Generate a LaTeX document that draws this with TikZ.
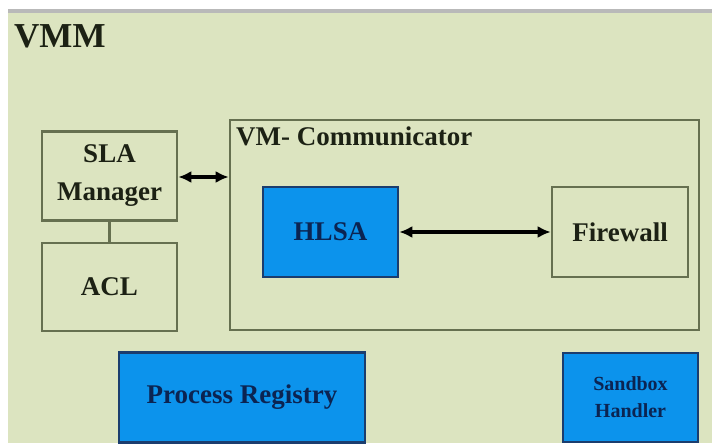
\documentclass[tikz,border=0pt]{standalone}
\usepackage{fontspec}
\setmainfont{Liberation Serif}
\usetikzlibrary{arrows.meta}
\definecolor{bggreen}{HTML}{DCE4C0}
\definecolor{olive}{HTML}{667050}
\definecolor{boxblue}{HTML}{0C93EC}
\definecolor{navy}{HTML}{1B3D6E}
\definecolor{txtdark}{HTML}{1C2114}
\definecolor{txtnavy}{HTML}{0B2452}
\tikzset{
  greenbox/.style={draw=olive, line width=2.6pt, fill=bggreen, inner sep=0pt, text=txtdark,
    font=\fontsize{27}{38}\selectfont\bfseries, align=center},
  bluebox/.style={draw=navy, line width=2.6pt, fill=boxblue, inner sep=0pt, text=txtnavy,
    font=\fontsize{27}{38}\selectfont\bfseries, align=center},
  dblarrow/.style={line width=3.6pt, {Latex[length=13pt,width=12pt]}-{Latex[length=13pt,width=12pt]}},
}
\begin{document}
\begin{tikzpicture}[x=1pt,y=-1pt]
\useasboundingbox (0,0) rectangle (712,446);
\fill[white] (0,0) rectangle (712,446);
\fill[bggreen] (8,12) rectangle (712,443);
\fill[gray!55] (8,9) rectangle (712,13);
\node[anchor=north west, inner sep=0pt, text=txtdark, font=\fontsize{35}{40}\selectfont\bfseries] (vmm) at (14,24) {VMM};
% VM-Communicator container
\node[draw=olive, line width=2.6pt, inner sep=0pt, minimum width=469pt, minimum height=210pt] (comm) at (464.5,225) {};
\node[anchor=north west, inner sep=0pt, text=txtdark, font=\fontsize{27}{32}\selectfont\bfseries] (commlbl) at (236,127) {VM- Communicator};
% left boxes
\node[greenbox, minimum width=135pt, minimum height=89pt] (sla) at (109.5,176) {SLA\\Manager};
\node[greenbox, minimum width=135pt, minimum height=88pt] (acl) at (109.5,287) {ACL};
% inner boxes
\node[bluebox, minimum width=135pt, minimum height=90pt] (hlsa) at (330.5,232) {HLSA};
\node[greenbox, minimum width=136pt, minimum height=90pt] (fw) at (620,232) {Firewall};
% bottom boxes
\node[bluebox, minimum width=246pt, minimum height=90pt] (preg) at (242,397.5) {Process Registry};
\node[bluebox, minimum width=135pt, minimum height=89pt, font=\fontsize{20}{27}\selectfont\bfseries] (sbox) at (630.5,397.5) {Sandbox\\Handler};
% connectors
\draw[olive, line width=2.6pt] (sla.south) -- (acl.north);
\draw[dblarrow] (sla.east |- 0,177) -- (comm.west |- 0,177);
\draw[dblarrow] (hlsa.east) -- (fw.west);
\end{tikzpicture}
\end{document}
